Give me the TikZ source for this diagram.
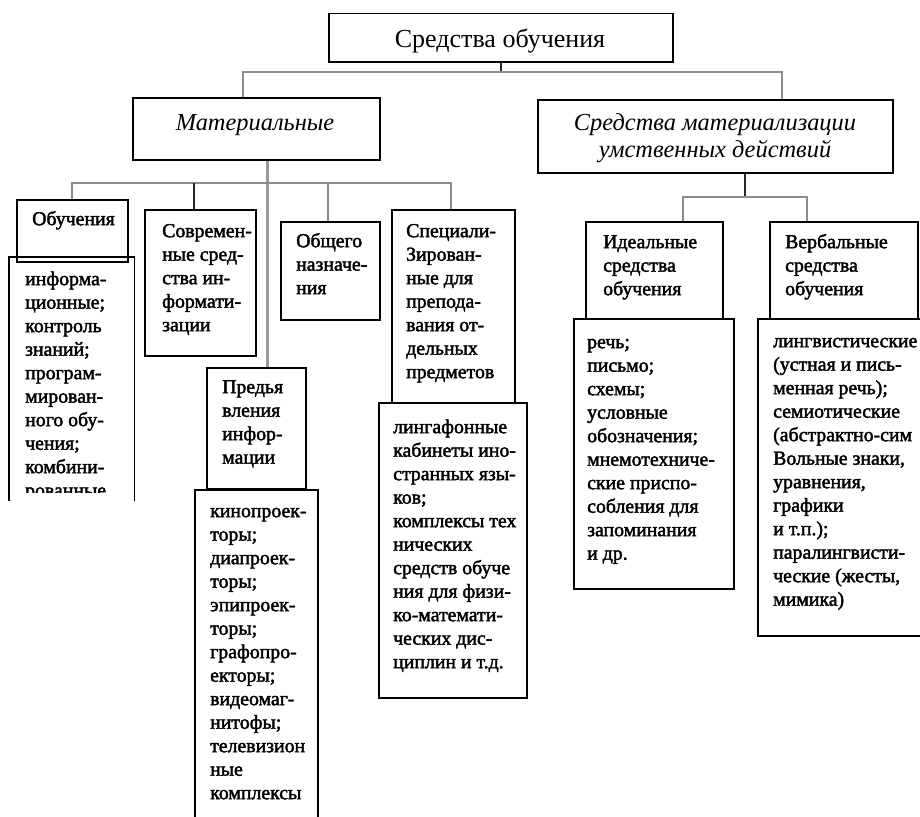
\documentclass[tikz,border=0pt]{standalone}
\usepackage{fontspec}
\setmainfont{Liberation Serif}
\newfontfamily\bodyfont{Liberation Serif}[FakeBold=2]
\newcommand\fl{\rule{0pt}{15pt}}
\newcommand\flT{\rule{0pt}{20pt}}
\newcommand\flI{\rule{0pt}{18pt}}
\tikzset{
  box/.style={draw=black, line width=1.5pt, inner sep=0pt, anchor=north west},
  boxline/.style={draw=black, line width=1.5pt},
  txt/.style={anchor=north west, inner sep=0pt, align=left, font=\bodyfont\fontsize{19.8}{23.5}\selectfont},
  ttl/.style={anchor=north, inner sep=0pt, font=\fontsize{26}{30}\selectfont},
  itl/.style={anchor=north, inner sep=0pt, align=center, font=\itshape\fontsize{24.4}{27}\selectfont},
  cgray/.style={draw=black!45, line width=1.5pt},
  cdark/.style={draw=black!85, line width=1.5pt},
  cstem/.style={draw=black!40, line width=3pt}
}
\begin{document}
\begin{tikzpicture}[x=1pt,y=-1pt]
\useasboundingbox[fill=white] (0,0) rectangle (920,816);
% boxes
\node[box, minimum width=344pt, minimum height=48pt] (top) at (328,13) {};
\node[box, minimum width=247pt, minimum height=62pt] (mat) at (132,97) {};
\node[box, minimum width=355pt, minimum height=73pt] (smd) at (537,99) {};
\node[box, minimum width=111pt, minimum height=62pt] (obh) at (16,199) {};
\node[box, draw=none, minimum width=124pt, minimum height=242pt] (obc) at (9,257) {};
\draw[boxline] (obc.south west) -- (obc.north west) -- (obc.north east) -- (obc.south east);
\node[box, minimum width=111pt, minimum height=146pt] (sov) at (144,209) {};
\node[box, minimum width=99pt, minimum height=98pt] (obs) at (280,221) {};
\node[box, minimum width=123pt, minimum height=193pt] (spc) at (391,209) {};
\node[box, minimum width=148pt, minimum height=295pt] (lin) at (378,402) {};
\node[box, minimum width=99pt, minimum height=121pt] (pre) at (206,367) {};
\node[box, minimum width=123pt, minimum height=335pt] (kin) at (194,489) {};
\node[box, minimum width=137pt, minimum height=97pt] (ide) at (585,221) {};
\node[box, minimum width=160pt, minimum height=270pt] (idc) at (573,318) {};
\node[box, minimum width=148pt, minimum height=97pt] (ver) at (769,221) {};
\node[box, minimum width=170pt, minimum height=317pt] (vec) at (757,318) {};
% titles
\node[ttl] (ttop) at (500,27) {\flT Средства обучения};
\node[itl] (tmat) at (255,112) {\flI Материальные};
\node[itl] (tsmd) at (715,112) {\flI Средства материализации\\умственных действий};
% texts
\node[txt] (tobh) at (32,210) {\fl Обучения};
\begin{scope}
\clip (9,257) rectangle (133,492);
\node[txt] (tobc) at (25,270) {\fl информа-\\ционные;\\контроль\\знаний;\\програм-\\мирован-\\ного обу-\\чения;\\комбини-\\рованные};
\end{scope}
\node[txt] (tsov) at (162,222) {\fl Современ-\\ные сред-\\ства ин-\\формати-\\зации};
\node[txt] (tobs) at (296,232) {\fl Общего\\назначе-\\ния};
\node[txt] (tspc) at (406,222) {\fl Специали-\\Зирован-\\ные для\\препода-\\вания от-\\дельных\\предметов};
\node[txt] (tlin) at (393,418) {\fl лингафонные\\кабинеты ино-\\странных язы-\\ков;\\комплексы тех\\нических\\средств обуче\\ния для физи-\\ко-математи-\\ческих дис-\\циплин и т.д.};
\node[txt] (tpre) at (222,378) {\fl Предья\\вления\\инфор-\\мации};
\node[txt] (tkin) at (210,502) {\fl кинопроек-\\торы;\\диапроек-\\торы;\\эпипроек-\\торы;\\графопро-\\екторы;\\видеомаг-\\нитофы;\\телевизион\\ные\\комплексы};
\node[txt] (tide) at (603,233) {\fl Идеальные\\средства\\обучения};
\node[txt] (tidc) at (587,333) {\fl речь;\\письмо;\\схемы;\\условные\\обозначения;\\мнемотехниче-\\ские приспо-\\собления для\\запоминания\\и др.};
\node[txt] (tver) at (785,233) {\fl Вербальные\\средства\\обучения};
\node[txt] (tvec) at (773,332) {\fl лингвистические\\(устная и пись-\\менная речь);\\семиотические\\(абстрактно-сим\\Вольные знаки,\\уравнения,\\графики\\и т.п.);\\паралингвисти-\\ческие (жесты,\\мимика)};
% connectors
\coordinate (b0) at (501,72);
\coordinate (bL) at (243,72);
\coordinate (bR) at (782,72);
\coordinate (m0) at (267,183);
\coordinate (c1) at (72,183);
\coordinate (c2) at (194,183);
\coordinate (c3) at (328,183);
\coordinate (c4) at (451,183);
\coordinate (r0) at (745,197);
\coordinate (r1) at (683,197);
\coordinate (r2) at (807,197);
\draw[cdark] (b0 |- top.south) -- (b0);
\draw[cgray] (bL |- mat.north) -- (bL) -- (bR) -- (bR |- smd.north);
\draw[cstem] (m0 |- mat.south) -- (m0 |- pre.north);
\draw[cgray] (c1 |- obh.north) -- (c1) -- (c4) -- (c4 |- spc.north);
\draw[cdark] (c2) -- (c2 |- sov.north);
\draw[cgray] (c3) -- (c3 |- obs.north);
\draw[cdark] (r0 |- smd.south) -- (r0);
\draw[cgray] (r1 |- ide.north) -- (r1) -- (r2) -- (r2 |- ver.north);
\end{tikzpicture}
\end{document}
